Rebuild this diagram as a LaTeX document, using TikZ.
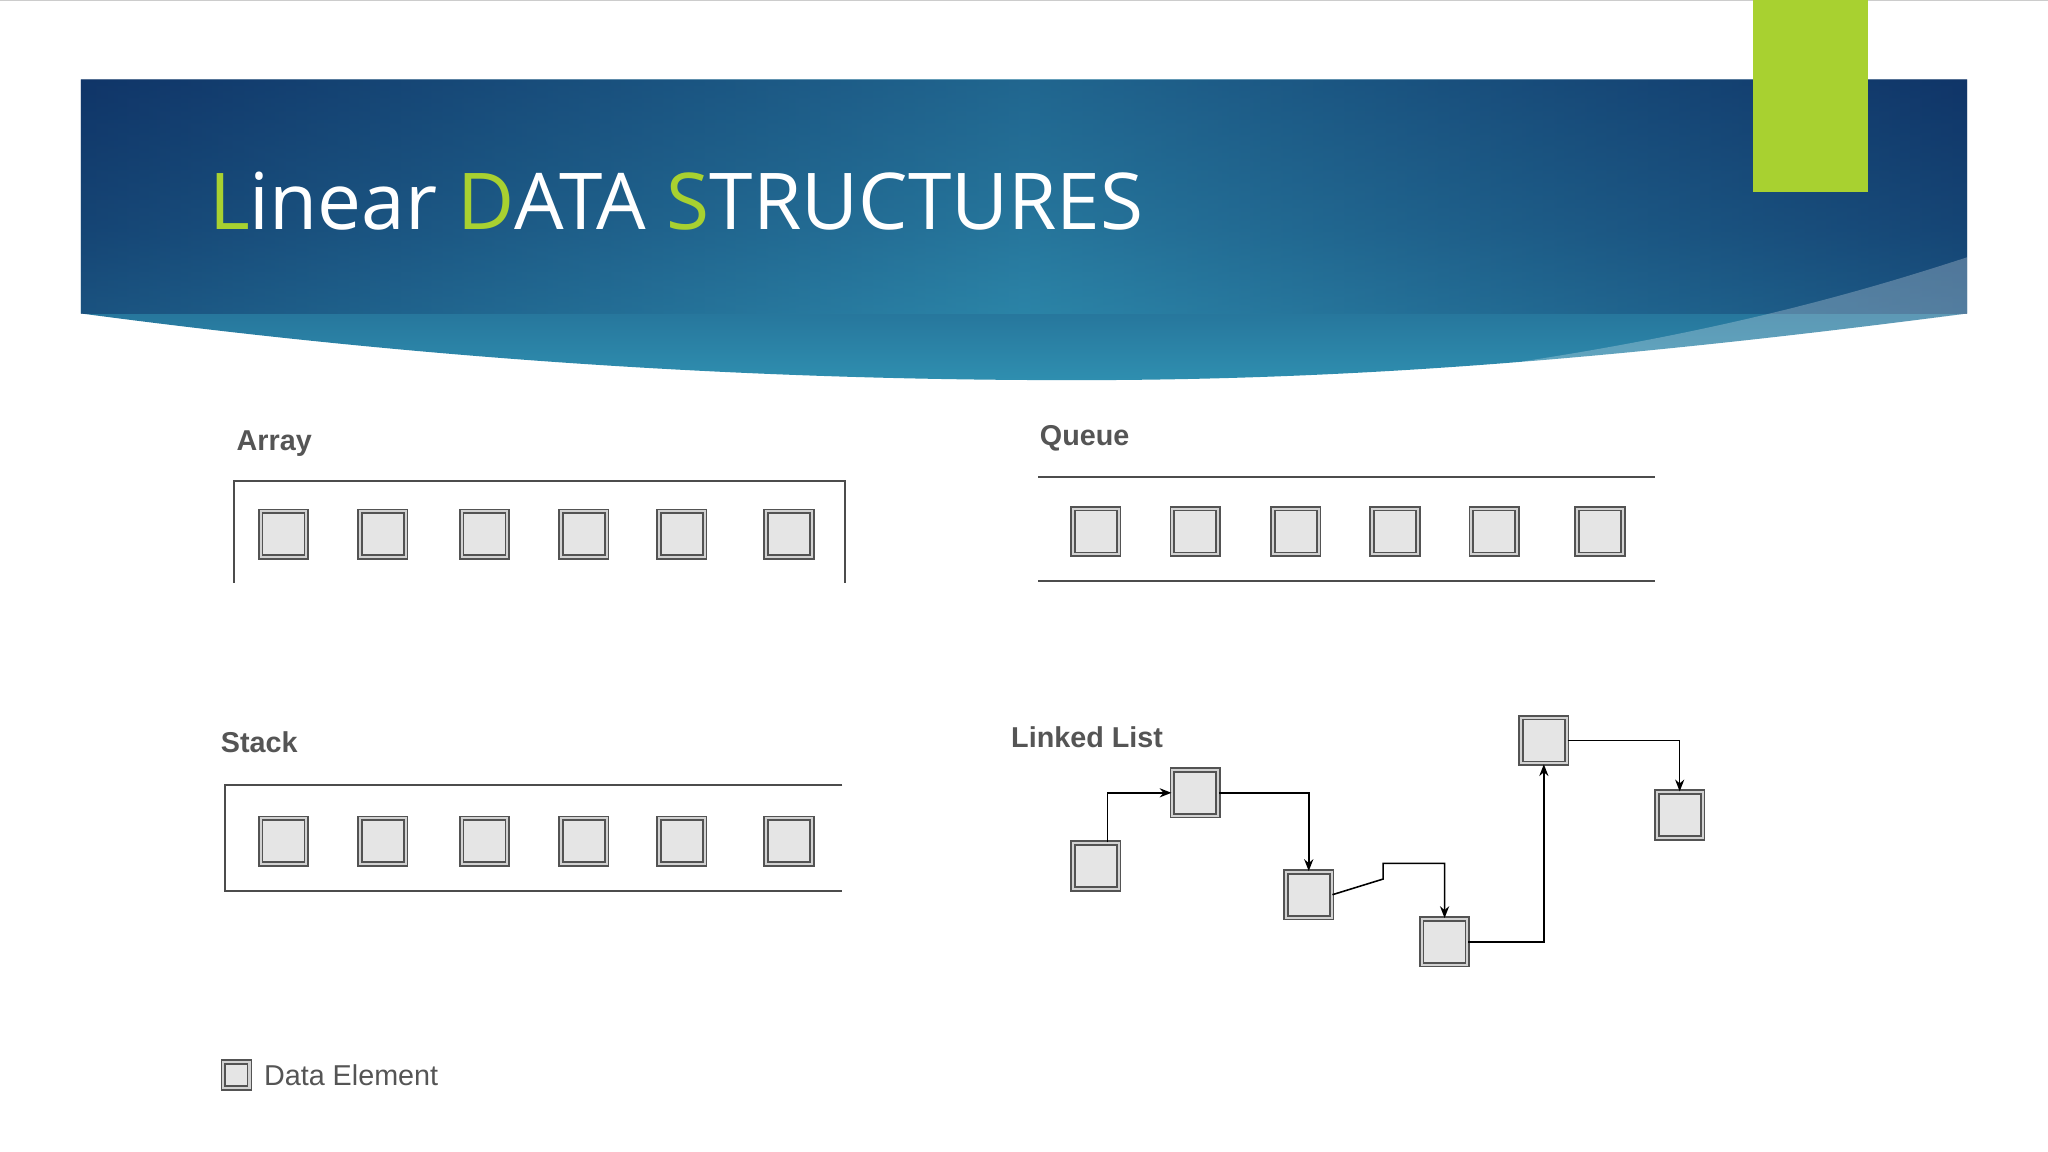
\documentclass[tikz,border=0pt]{standalone}
\usepackage{fontspec}
\setmainfont{Open Sans}
\newfontfamily\lab{Liberation Sans}
\usetikzlibrary{arrows.meta}
\definecolor{lime}{HTML}{A8D130}
\definecolor{navy}{HTML}{103568}
\definecolor{teal1}{HTML}{2F8FB0}
\definecolor{labg}{HTML}{555555}
\begin{document}
\begin{tikzpicture}[x=1pt,y=-1pt,
  el/.style={draw=gray!65!black,double=gray!35,double distance=1.6pt,line width=1.3pt,fill=gray!20,minimum size=35pt,inner sep=0pt},
  lbl/.style={font=\lab\bfseries\fontsize{22}{24}\selectfont,text=labg,anchor=base west,inner sep=0pt},
  ln/.style={draw=gray!60!black,line width=1.6pt},
  ar/.style={draw=black,line width=1.2pt,-{Stealth[length=9pt,width=7pt]}}]
\useasboundingbox (0,0) rectangle (1568,882);
\fill[white] (0,0) rectangle (1568,882);
\draw[gray!40] (0,0.5) -- (1568,0.5);
% banner
\shade[top color=navy,bottom color=teal1,middle color=navy!60!teal1]
  (62,61) -- (1506,61) -- (1506,240) .. controls (1200,280) and (1000,292) .. (800,291)
  .. controls (500,290) and (250,265) .. (62,240) -- cycle;
\shade[left color=navy,right color=navy,middle color=teal1,opacity=0.55]
  (62,61) rectangle (1506,240);
\fill[white,opacity=0.25] (1100,286) .. controls (1300,260) and (1420,225) .. (1506,197) -- (1506,240) .. controls (1350,262) and (1200,278) .. (1100,286) -- cycle;
\node[fill=lime,minimum width=88pt,minimum height=147pt,anchor=north west,inner sep=0pt] (gr) at (1342,0) {};
\node[anchor=base west,inner sep=0pt,text=white,font=\fontsize{60}{64}\selectfont] (title) at (160,176)
  {\textcolor{lime}{L}inear \textcolor{lime}{D}ATA \textcolor{lime}{S}TRUCTURES};
% Array
\node[lbl] (larr) at (181,345) {Array};
\draw[ln] (179,446) -- (179,368) -- (647,368) -- (647,446);
\foreach \x [count=\i] in {217,293,371,447,522,604} \node[el] (a\i) at (\x,409) {};
% Queue
\node[lbl] (lq) at (796,341) {Queue};
\draw[ln] (795,365) -- (1267,365);
\draw[ln] (795,445) -- (1267,445);
\foreach \x [count=\i] in {839,915,992,1068,1144,1225} \node[el] (q\i) at (\x,407) {};
% Stack
\node[lbl] (ls) at (169,576) {Stack};
\draw[ln] (645,601) -- (172,601) -- (172,682) -- (645,682);
\foreach \x [count=\i] in {217,293,371,447,522,604} \node[el] (s\i) at (\x,644) {};
% Linked list
\node[lbl] (ll) at (774,572) {Linked List};
\node[el] (A) at (839,663) {};
\node[el] (B) at (915,607) {};
\node[el] (C) at (1002,685) {};
\node[el] (D) at (1106,721) {};
\node[el] (E) at (1182,567) {};
\node[el] (F) at (1286,624) {};
\draw[ar] ([xshift=9pt]A.north) |- (B.west);
\draw[ar] (B.east) -| (C.north);
\draw[ar] (C.east) -- (1059,673) -- (1059,661) -| (D.north);
\draw[ar] (D.east) -| (E.south);
\draw[ar] (E.east) -| (F.north);
% legend
\node[el,minimum size=20pt] (leg) at (181,823) {};
\node[anchor=west,inner sep=0pt,text=labg,font=\lab\fontsize{22}{24}\selectfont] (legt) at (202,823) {Data Element};
\end{tikzpicture}
\end{document}
